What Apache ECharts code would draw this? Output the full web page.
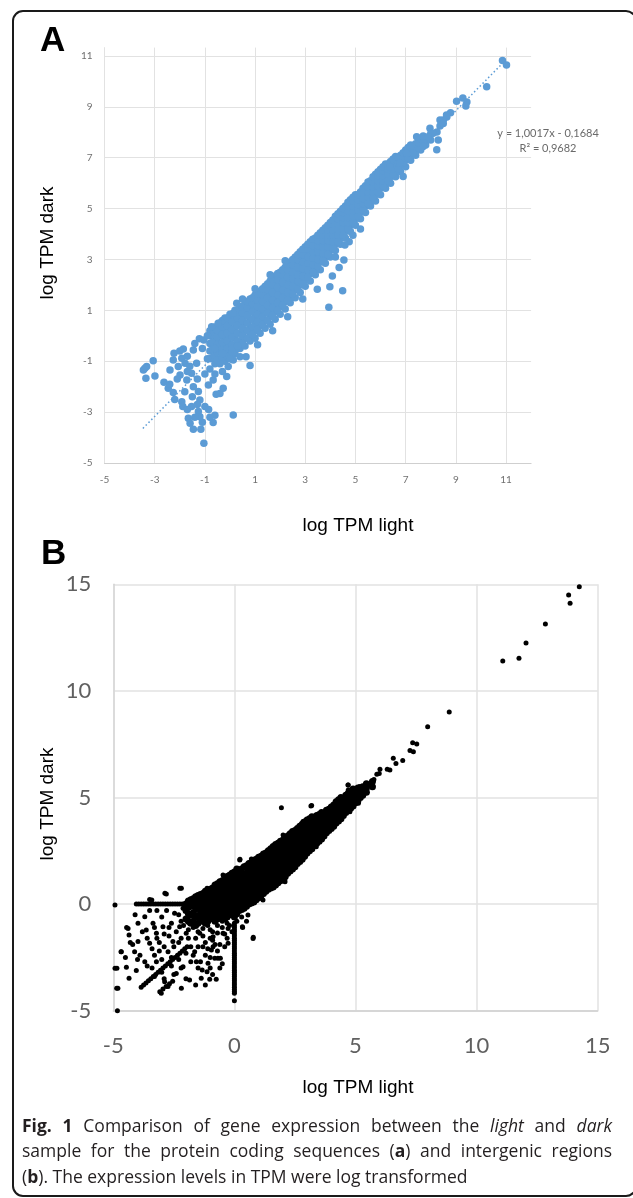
<!DOCTYPE html>
<html>
<head>
<meta charset="utf-8">
<script src="https://cdn.jsdelivr.net/npm/echarts@6/dist/echarts.min.js"></script>
<style>html,body{margin:0;padding:0;background:#fff}#c{width:633px;height:1198px}</style>
</head>
<body>
<div id="c"></div>
<script>
// ---------- Panel A: protein coding sequences (log TPM light vs log TPM dark) ----------
const aTicksX = [-5, -3, -1, 1, 3, 5, 7, 9, 11];
const aTicksY = [-5, -3, -1, 1, 3, 5, 7, 9, 11];
// dense diagonal band, read column by column: [log TPM light, [log TPM dark ...]]
const aBandCols = [
  [-0.8, [-0.9, -0.6, -0.3, 0.0, 0.2]],
  [-0.6, [-1.1, -0.8, -0.5, -0.2, 0.1, 0.35]],
  [-0.4, [-0.9, -0.6, -0.3, 0.0, 0.25, 0.5]],
  [-0.2, [-1.0, -0.7, -0.4, -0.1, 0.2, 0.45, 0.7]],
  [0.0, [-0.9, -0.6, -0.3, 0.0, 0.3, 0.6, 0.85]],
  [0.2, [-0.7, -0.4, -0.1, 0.2, 0.5, 0.75, 1.0]],
  [0.4, [-0.5, -0.2, 0.1, 0.4, 0.65, 0.9, 1.15]],
  [0.6, [-0.4, -0.1, 0.2, 0.5, 0.8, 1.05, 1.3]],
  [0.8, [-0.2, 0.1, 0.35, 0.65, 0.95, 1.2, 1.45]],
  [1.0, [-0.1, 0.2, 0.5, 0.8, 1.05, 1.3, 1.6]],
  [1.2, [0.1, 0.4, 0.7, 0.95, 1.2, 1.5, 1.75]],
  [1.4, [0.3, 0.6, 0.9, 1.15, 1.4, 1.65, 1.95]],
  [1.6, [0.45, 0.75, 1.05, 1.3, 1.6, 1.85, 2.15]],
  [1.8, [0.65, 0.95, 1.25, 1.5, 1.8, 2.05, 2.35]],
  [2.0, [0.85, 1.15, 1.45, 1.7, 2.0, 2.25, 2.5]],
  [2.2, [1.05, 1.35, 1.6, 1.9, 2.15, 2.45, 2.7]],
  [2.4, [1.3, 1.55, 1.85, 2.1, 2.35, 2.65, 2.9]],
  [2.6, [1.5, 1.8, 2.05, 2.3, 2.55, 2.85, 3.1]],
  [2.8, [1.7, 2.0, 2.25, 2.5, 2.8, 3.05, 3.3]],
  [3.0, [1.95, 2.2, 2.45, 2.75, 3.0, 3.25, 3.5]],
  [3.2, [2.15, 2.45, 2.7, 2.95, 3.2, 3.45, 3.7]],
  [3.4, [2.4, 2.65, 2.9, 3.15, 3.4, 3.65, 3.85]],
  [3.6, [2.6, 2.9, 3.15, 3.4, 3.6, 3.85, 4.05]],
  [3.8, [2.85, 3.1, 3.35, 3.6, 3.85, 4.05, 4.25]],
  [4.0, [3.1, 3.35, 3.6, 3.85, 4.05, 4.25, 4.45]],
  [4.2, [3.35, 3.6, 3.85, 4.05, 4.3, 4.5, 4.7]],
  [4.4, [3.6, 3.85, 4.1, 4.3, 4.5, 4.7, 4.9]],
  [4.6, [3.85, 4.1, 4.3, 4.55, 4.75, 4.95, 5.1]],
  [4.8, [4.1, 4.35, 4.55, 4.8, 5.0, 5.2, 5.35]],
  [5.0, [4.35, 4.6, 4.8, 5.0, 5.2, 5.4, 5.55]],
  [5.2, [4.6, 4.85, 5.05, 5.25, 5.45, 5.65]],
  [5.4, [4.85, 5.1, 5.3, 5.5, 5.7, 5.9]],
  [5.6, [5.1, 5.3, 5.55, 5.75, 5.95, 6.1]],
  [5.8, [5.3, 5.55, 5.75, 5.95, 6.15, 6.35]],
  [6.0, [5.55, 5.8, 6.0, 6.2, 6.4, 6.55]],
  [6.2, [5.8, 6.0, 6.2, 6.4, 6.6, 6.75]],
  [6.4, [6.0, 6.25, 6.45, 6.65, 6.85]],
  [6.6, [6.25, 6.45, 6.65, 6.85, 7.05]],
  [6.8, [6.45, 6.7, 6.9, 7.1]],
  [7.0, [6.65, 6.9, 7.1, 7.3]],
  [7.2, [6.9, 7.1, 7.3, 7.5]],
  [7.4, [7.1, 7.3, 7.55]],
  [7.6, [7.3, 7.5, 7.7]],
  [7.8, [7.5, 7.75]],
  [8.0, [7.7, 7.95]]
];
// in-between columns of the same band
const aBandCols2 = [
  [-0.7, [-0.85, -0.55, -0.25, 0.05]],
  [-0.5, [-0.95, -0.65, -0.35, -0.05, 0.2]],
  [-0.3, [-0.85, -0.55, -0.25, 0.05, 0.35, 0.6]],
  [-0.1, [-0.8, -0.5, -0.2, 0.1, 0.4, 0.7]],
  [0.1, [-0.65, -0.35, -0.05, 0.25, 0.55, 0.85]],
  [0.3, [-0.5, -0.2, 0.1, 0.4, 0.7, 0.95]],
  [0.5, [-0.3, 0.0, 0.3, 0.6, 0.9, 1.15]],
  [0.7, [-0.1, 0.2, 0.5, 0.8, 1.1, 1.35]],
  [0.9, [0.05, 0.35, 0.65, 0.95, 1.25, 1.5]],
  [1.1, [0.25, 0.55, 0.85, 1.15, 1.4, 1.65]],
  [1.3, [0.45, 0.75, 1.05, 1.35, 1.6, 1.85]],
  [1.5, [0.6, 0.9, 1.2, 1.5, 1.8, 2.05]],
  [1.7, [0.8, 1.1, 1.4, 1.7, 2.0, 2.25]],
  [1.9, [1.0, 1.3, 1.6, 1.9, 2.2, 2.45]],
  [2.1, [1.2, 1.5, 1.8, 2.1, 2.4, 2.6]],
  [2.3, [1.4, 1.7, 2.0, 2.3, 2.6, 2.8]],
  [2.5, [1.65, 1.95, 2.25, 2.5, 2.8, 3.0]],
  [2.7, [1.85, 2.15, 2.4, 2.7, 3.0, 3.2]],
  [2.9, [2.05, 2.35, 2.65, 2.9, 3.2, 3.4]],
  [3.1, [2.3, 2.6, 2.85, 3.1, 3.4, 3.6]],
  [3.3, [2.5, 2.8, 3.05, 3.3, 3.55, 3.8]],
  [3.5, [2.75, 3.0, 3.3, 3.55, 3.75, 3.95]],
  [3.7, [2.95, 3.25, 3.5, 3.75, 3.95, 4.15]],
  [3.9, [3.2, 3.5, 3.75, 3.95, 4.15, 4.35]],
  [4.1, [3.45, 3.7, 3.95, 4.15, 4.4, 4.55]],
  [4.3, [3.7, 3.95, 4.2, 4.4, 4.6, 4.8]],
  [4.5, [3.95, 4.2, 4.45, 4.65, 4.85, 5.0]],
  [4.7, [4.2, 4.45, 4.65, 4.9, 5.1, 5.25]],
  [4.9, [4.45, 4.7, 4.9, 5.1, 5.3, 5.45]],
  [5.1, [4.7, 4.95, 5.15, 5.35, 5.55]],
  [5.3, [4.95, 5.2, 5.4, 5.6, 5.8]],
  [5.5, [5.2, 5.45, 5.65, 5.85, 6.05]],
  [5.7, [5.45, 5.65, 5.85, 6.05, 6.25]],
  [5.9, [5.65, 5.9, 6.1, 6.3, 6.45]],
  [6.1, [5.9, 6.1, 6.3, 6.5, 6.65]],
  [6.3, [6.1, 6.35, 6.55, 6.75]],
  [6.5, [6.35, 6.55, 6.75, 6.95]],
  [6.7, [6.55, 6.8, 7.0]],
  [6.9, [6.8, 7.0, 7.2]],
  [7.1, [7.0, 7.2, 7.4]],
  [7.3, [7.2, 7.45]],
  [7.5, [7.4, 7.6]],
  [7.7, [7.6, 7.85]]
];
// individual / sparse points of panel A
const aPoints = [
  [10.86, 10.82], [11.02, 10.65], [10.23, 9.79], [9.03, 9.22], [9.28, 9.35], [9.44, 9.19], [9.4, 9.03],
  [8.79, 8.77], [8.64, 8.6], [8.5, 8.48], [8.37, 8.25], [8.25, 8.01], [8.63, 8.68], [8.37, 8.48], [8.5, 8.35],
  [7.97, 8.16], [8.1, 7.96], [8.3, 7.7], [8.24, 7.31], [7.9, 7.83], [7.44, 7.83], [7.7, 7.44], [7.04, 7.18],
  [6.77, 6.78], [6.9, 6.26], [6.37, 6.65],
  [3.94, 1.12], [4.49, 1.77], [3.48, 1.83], [3.98, 1.93], [4.08, 2.35], [4.35, 2.69], [4.54, 2.98],
  [4.75, 3.7], [4.58, 3.57], [4.2, 3.1], [4.9, 3.95], [5.2, 4.2],
  [-3.45, -1.34], [-3.32, -1.21], [-3.06, -0.98], [-2.99, -1.58], [-3.35, -1.67], [-2.63, -1.83], [-3.39, -1.28],
  [-2.23, -0.69], [-1.86, -0.52], [-1.46, -0.56], [-1.22, -0.12], [-1.04, -0.16], [-0.73, 0.36], [-0.47, 0.49],
  [-2.39, -1.34], [-2.46, -2.06], [-2.26, -2.23], [-1.92, -2.59], [-1.88, -2.78], [-1.66, -3.24], [-1.59, -3.44],
  [-1.46, -3.67], [-1.16, -3.67], [-1.04, -4.22], [-1.2, -3.18], [-1.0, -2.78], [-0.67, -3.41], [-0.6, -3.12],
  [0.13, -3.11], [-0.4, -2.27], [-0.27, -2.06], [-1.26, -2.19], [-1.46, -2.0], [-1.2, -2.52], [-1.53, -2.78],
  [-1.26, -2.98], [0.8, -1.17], [0.64, -0.82], [0.4, -0.82], [-0.13, -1.6], [-0.86, -1.93], [-0.67, -1.74],
  [-0.07, -1.21], [0.13, -0.95], [-2.26, -0.95], [-2.06, -1.21], [-1.99, -1.54], [-1.72, -1.74], [-1.53, -1.47],
  [-1.33, -1.08], [-1.79, -1.08], [-1.92, -0.88], [0.27, 1.28], [0.13, 0.89],
  [-2.0, -0.6], [-1.7, -0.8], [-1.6, -1.2], [-1.4, -0.3], [-1.1, -0.5], [-0.9, -0.9], [-0.8, -1.3], [-1.0, -1.5],
  [-1.3, -1.7], [-1.7, -1.4], [-2.1, -1.7], [-2.4, -1.9], [-2.2, -2.5], [-1.8, -2.2], [-1.5, -2.4], [-1.3, -2.7],
  [-1.1, -3.4], [-1.4, -3.2], [-1.7, -2.9], [-0.85, -2.9], [-0.8, -3.2], [-0.55, -2.3], [-0.6, -1.5], [-0.4, -1.1],
  [-0.3, -0.7], [-0.6, -0.5], [-0.9, 0.0], [-0.3, -1.4], [0.1, -0.5], [0.3, -0.4], [0.0, -0.9],
  [1.1, -0.35], [1.7, 0.2], [2.3, 0.75], [2.9, 1.45], [1.0, 1.85], [1.6, 2.4], [2.2, 2.95], [0.5, 1.45]
];
const aTrendX = [-3.47, 10.95];
const aTrendY = [-3.64, 10.8];
const aEquation = ['y = 1,0017x - 0,1684', 'R² = 0,9682'];

// ---------- Panel B: intergenic regions ----------
const bTicks = [-5, 0, 5, 10, 15];
const bBandCols = [
  [-2.0, [-0.7, -0.3, 0.0]],
  [-1.8, [-0.9, -0.5, -0.1, 0.2]],
  [-1.6, [-1.0, -0.6, -0.2, 0.1, 0.35]],
  [-1.4, [-0.8, -0.45, -0.1, 0.2, 0.45]],
  [-1.2, [-0.9, -0.55, -0.25, 0.05, 0.35, 0.6]],
  [-1.0, [-0.7, -0.4, -0.1, 0.2, 0.45, 0.7]],
  [-0.8, [-0.8, -0.5, -0.2, 0.1, 0.35, 0.6, 0.9]],
  [-0.6, [-0.6, -0.3, 0.0, 0.25, 0.5, 0.8, 1.05]],
  [-0.4, [-0.7, -0.4, -0.1, 0.2, 0.45, 0.7, 0.95, 1.2]],
  [-0.2, [-0.5, -0.2, 0.1, 0.35, 0.6, 0.85, 1.1, 1.35]],
  [0.0, [-0.6, -0.3, 0.0, 0.25, 0.5, 0.75, 1.0, 1.25, 1.5]],
  [0.2, [-0.3, 0.0, 0.3, 0.55, 0.8, 1.05, 1.3, 1.6]],
  [0.4, [-0.2, 0.1, 0.4, 0.65, 0.9, 1.15, 1.4, 1.75]],
  [0.6, [0.0, 0.3, 0.55, 0.8, 1.05, 1.3, 1.6, 1.9]],
  [0.8, [0.1, 0.4, 0.7, 0.95, 1.2, 1.45, 1.75, 2.0]],
  [1.0, [0.3, 0.6, 0.85, 1.1, 1.35, 1.6, 1.9, 2.2]],
  [1.2, [0.5, 0.8, 1.05, 1.3, 1.55, 1.8, 2.05, 2.35]],
  [1.4, [0.7, 1.0, 1.25, 1.5, 1.75, 2.0, 2.25, 2.5]],
  [1.6, [0.8, 1.1, 1.4, 1.65, 1.9, 2.15, 2.4, 2.7]],
  [1.8, [1.0, 1.3, 1.55, 1.8, 2.05, 2.3, 2.55, 2.85]],
  [2.0, [1.2, 1.5, 1.75, 2.0, 2.25, 2.5, 2.75, 3.0]],
  [2.2, [1.45, 1.7, 1.95, 2.2, 2.45, 2.7, 2.95, 3.2]],
  [2.4, [1.65, 1.9, 2.15, 2.4, 2.65, 2.9, 3.15, 3.4]],
  [2.6, [1.9, 2.15, 2.4, 2.6, 2.85, 3.1, 3.35, 3.55]],
  [2.8, [2.1, 2.35, 2.6, 2.8, 3.05, 3.3, 3.5, 3.75]],
  [3.0, [2.4, 2.65, 2.85, 3.05, 3.3, 3.5, 3.7, 3.95]],
  [3.2, [2.6, 2.85, 3.05, 3.25, 3.5, 3.7, 3.9, 4.1]],
  [3.4, [2.85, 3.1, 3.3, 3.5, 3.7, 3.9, 4.15]],
  [3.6, [3.05, 3.3, 3.5, 3.7, 3.9, 4.1, 4.3]],
  [3.8, [3.35, 3.55, 3.75, 3.95, 4.15, 4.4]],
  [4.0, [3.55, 3.75, 3.95, 4.15, 4.35, 4.55]],
  [4.2, [3.8, 4.0, 4.2, 4.4, 4.6, 4.8]],
  [4.4, [4.0, 4.2, 4.4, 4.6, 4.8, 5.0]],
  [4.6, [4.3, 4.5, 4.7, 4.9, 5.1]],
  [4.8, [4.5, 4.7, 4.9, 5.1, 5.3]],
  [5.0, [4.75, 4.95, 5.15, 5.35]],
  [5.2, [5.0, 5.2, 5.4]],
  [5.45, [5.25, 5.45, 5.65]],
  [5.7, [5.5, 5.75]]
];
const bBandCols2 = [
  [-1.9, [-0.8, -0.45, -0.15, 0.15]],
  [-1.7, [-0.8, -0.4, -0.05, 0.25]],
  [-1.5, [-0.9, -0.55, -0.2, 0.1, 0.4]],
  [-1.3, [-0.7, -0.4, -0.1, 0.2, 0.5]],
  [-1.1, [-0.8, -0.5, -0.2, 0.1, 0.35, 0.6]],
  [-0.9, [-0.65, -0.35, -0.05, 0.25, 0.5, 0.75]],
  [-0.7, [-0.7, -0.4, -0.1, 0.2, 0.45, 0.7, 0.95]],
  [-0.5, [-0.55, -0.25, 0.05, 0.35, 0.6, 0.85, 1.1]],
  [-0.3, [-0.6, -0.3, 0.0, 0.3, 0.55, 0.8, 1.05, 1.3]],
  [-0.1, [-0.45, -0.15, 0.2, 0.45, 0.7, 0.95, 1.2, 1.45]],
  [0.1, [-0.45, -0.15, 0.15, 0.4, 0.65, 0.9, 1.15, 1.4, 1.65]],
  [0.3, [-0.25, 0.05, 0.35, 0.6, 0.85, 1.1, 1.35, 1.65]],
  [0.5, [-0.1, 0.2, 0.45, 0.7, 0.95, 1.2, 1.45, 1.8]],
  [0.7, [0.05, 0.35, 0.6, 0.85, 1.1, 1.35, 1.65, 1.95]],
  [0.9, [0.2, 0.5, 0.8, 1.05, 1.3, 1.55, 1.85, 2.1]],
  [1.1, [0.4, 0.7, 0.95, 1.2, 1.45, 1.7, 2.0, 2.25]],
  [1.3, [0.6, 0.9, 1.15, 1.4, 1.65, 1.9, 2.15, 2.4]],
  [1.5, [0.75, 1.05, 1.3, 1.55, 1.8, 2.05, 2.3, 2.6]],
  [1.7, [0.9, 1.2, 1.5, 1.75, 2.0, 2.25, 2.5, 2.8]],
  [1.9, [1.1, 1.4, 1.65, 1.9, 2.15, 2.4, 2.65, 2.95]],
  [2.1, [1.3, 1.6, 1.85, 2.1, 2.35, 2.6, 2.85, 3.1]],
  [2.3, [1.55, 1.8, 2.05, 2.3, 2.55, 2.8, 3.05, 3.3]],
  [2.5, [1.75, 2.0, 2.25, 2.5, 2.75, 3.0, 3.25, 3.45]],
  [2.7, [2.0, 2.25, 2.5, 2.7, 2.95, 3.2, 3.45, 3.65]],
  [2.9, [2.25, 2.5, 2.75, 2.95, 3.15, 3.4, 3.6, 3.85]],
  [3.1, [2.5, 2.75, 2.95, 3.15, 3.4, 3.6, 3.8, 4.0]],
  [3.3, [2.75, 3.0, 3.2, 3.4, 3.6, 3.8, 4.0]],
  [3.5, [2.95, 3.2, 3.4, 3.6, 3.8, 4.0, 4.2]],
  [3.7, [3.2, 3.45, 3.65, 3.85, 4.05, 4.25]],
  [3.9, [3.45, 3.65, 3.85, 4.05, 4.25, 4.45]],
  [4.1, [3.65, 3.85, 4.05, 4.25, 4.45, 4.65]],
  [4.3, [3.9, 4.1, 4.3, 4.5, 4.7, 4.9]],
  [4.5, [4.15, 4.35, 4.55, 4.75, 4.95]],
  [4.7, [4.4, 4.6, 4.8, 5.0, 5.2]],
  [4.9, [4.6, 4.8, 5.0, 5.2, 5.4]],
  [5.1, [4.85, 5.05, 5.25, 5.45]],
  [5.3, [5.1, 5.3, 5.5]]
];
const bPoints = [
  [14.24, 14.89], [13.8, 14.5], [13.86, 14.11], [12.84, 13.14], [12.04, 12.25], [11.75, 11.53], [11.08, 11.4],
  [8.87, 9.01], [7.98, 8.32], [7.53, 7.51], [7.36, 7.57], [7.39, 7.15], [7.25, 7.2], [6.95, 6.73], [6.67, 6.6],
  [6.56, 6.84], [6.42, 6.29], [6.31, 6.32], [6.01, 6.32], [5.98, 6.13], [5.88, 6.09], [5.76, 5.85], [5.6, 5.59],
  [5.39, 5.51], [5.16, 5.51], [5.12, 5.12], [4.7, 5.59], [4.7, 5.35], [4.77, 4.33], [5.12, 4.73], [4.91, 4.96],
  [4.5, 4.73], [4.36, 4.96], [3.16, 4.6], [1.94, 4.52], [3.19, 4.62], [4.69, 5.59], [5.17, 5.51], [4.62, 4.33],
  [4.83, 5.04], [3.38, 2.69], [2.08, 1.13], [1.18, 0.19], [0.77, -1.61], [0.33, -1.06], [0.56, -0.51],
  [0.78, -1.56], [0.34, -1.1], [2.09, 1.05], [2.09, 1.28], [0.23, 2.1], [0.78, 2.1], [2.83, 3.87], [2.01, 3.24],
  [0.7, 2.12], [0.22, 2.07], [-0.47, 1.37], [-1.13, 0.74], [-2.19, 0.74], [-2.81, 0.47], [-2.25, 0.74],
  [-2.87, 0.51], [-3.41, 0.19], [-3.5, 0.22], [-4.93, -0.04],
  [-4.39, -1.14], [-4.35, -1.45], [-3.98, -0.9], [-3.7, -0.59], [-3.64, -1.21], [-3.36, -0.9], [-3.22, -1.37],
  [-2.95, -1.06], [-3.98, -1.76], [-3.5, -1.84], [-4.67, -2.23], [-4.12, -2.23], [-3.7, -2.7], [-4.46, -2.96],
  [-4.05, -3.12], [-4.35, -3.48], [-3.22, -2.7], [-2.74, -2.23], [-2.54, -1.76], [-2.47, -0.43], [-2.12, -0.2],
  [-2.26, -1.06], [-1.99, -1.37], [-1.85, -0.9], [-2.88, -3.64], [-3.02, -4.18], [-2.74, -3.87], [-2.19, -3.95],
  [-1.85, -3.56], [-2.4, -3.25], [-2.12, -2.94], [-1.37, -3.48], [-1.02, -3.53], [-0.75, -3.53], [-1.33, -3.09],
  [-1.57, -2.7], [-1.64, -2.23], [-1.09, -2.78], [-0.88, -2.0], [-0.95, -2.15], [-0.81, -2.54], [-0.68, -2.54],
  [-0.58, -2.54], [-1.13, -3.17], [-0.47, -1.37], [-0.26, -1.84], [-0.26, -1.14], [-0.88, -1.53], [-1.3, -2.0],
  [-1.43, -1.37], [-1.37, -0.75], [-1.64, -0.59], [-1.3, -0.28], [-4.45, -1.1], [-4.68, -2.23], [-4.93, -3.01],
  [-4.86, -3.95], [-4.83, -5.0], [-4.81, -3.95], [-4.85, -3.01],
  [-3.08, -4.11], [-2.95, -3.98], [-2.82, -3.86], [-2.68, -3.74], [-2.55, -3.62],
  [-3.3, -2.4], [-3.1, -2.2], [-2.9, -2.0], [-3.2, -1.6], [-2.7, -1.5], [-2.4, -1.3], [-2.6, -0.9], [-3.0, -0.6],
  [-3.5, -0.3], [-4.1, -0.5], [-4.2, -1.9], [-3.9, -2.4], [-3.4, -3.0], [-3.0, -3.2], [-2.6, -2.9], [-2.3, -2.6],
  [-2.0, -2.3], [-1.8, -2.0], [-2.2, -1.6], [-1.9, -1.2], [-1.6, -1.6], [-1.2, -1.8], [-1.0, -1.2], [-0.7, -1.0],
  [-0.5, -0.8], [-0.3, -0.9], [-1.5, -3.0], [-1.2, -2.4], [-0.4, -2.0], [-2.5, -3.3], [-2.0, -3.5], [-1.6, -3.8],
  [-1.0, -3.0], [-0.6, -3.0], [-0.3, -0.4], [0.5, -0.8], [0.3, -0.6],
  [-3.8, -1.3], [-3.6, -1.6], [-3.3, -1.1], [-3.1, -1.8], [-2.9, -1.4], [-2.7, -1.1], [-2.5, -2.0], [-2.3, -1.8],
  [-2.1, -1.0], [-1.9, -1.6], [-1.7, -2.4], [-1.5, -2.0], [-1.3, -1.5], [-1.1, -2.1], [-0.9, -1.7], [-0.7, -2.2],
  [-0.6, -1.9], [-1.0, -2.5], [-1.4, -2.7], [-1.8, -2.7], [-2.2, -3.0], [-2.6, -2.5], [-3.0, -2.6], [-3.4, -2.1],
  [-3.6, -2.9], [-4.0, -2.6], [-4.3, -1.8], [-4.5, -2.5], [-3.3, -3.4], [-2.9, -3.5], [-1.2, -3.8], [-0.9, -3.3],
  [-0.5, -2.8], [-0.3, -1.6], [-0.1, -1.3], [-2.8, -0.3], [-3.2, -0.3], [-2.3, -0.5], [-1.9, -0.4], [-1.6, -0.3],
  [-1.9, -0.75], [-1.7, -1.1], [-1.5, -1.3], [-1.3, -1.15], [-1.1, -1.0], [-0.9, -1.3], [-0.7, -1.35],
  [-0.5, -1.1], [-0.2, -1.0], [0.1, -0.8], [-1.6, -0.9], [-2.2, -0.8], [-1.0, -1.6], [-0.4, -1.4], [-0.8, -1.9]
];
// horizontal run of points at log TPM dark = 0
const bRowZeroX = [-4.05, -3.95, -3.85, -3.75, -3.65, -3.55, -3.45, -3.35, -3.25, -3.15, -3.05, -2.95, -2.85,
  -2.75, -2.65, -2.55, -2.45, -2.35, -2.25, -2.15, -2.05, -1.95, -1.85, -1.75];
// vertical run of points at log TPM light = 0
const bColZeroY = [-0.9, -1.0, -1.1, -1.2, -1.3, -1.4, -1.5, -1.6, -1.7, -1.8, -1.9, -2.0, -2.1, -2.2, -2.3,
  -2.4, -2.5, -2.6, -2.7, -2.8, -2.9, -3.0, -3.1, -3.2, -3.3, -3.4, -3.5, -3.6, -3.7, -3.8, -3.9, -4.0,
  -4.1, -4.18, -4.53];
// diagonal run of points (light = dark) in the low-expression corner
const bDiagX = [-3.85, -3.75, -3.65, -3.55, -3.45, -3.35, -3.25, -3.15, -3.05, -2.95, -2.85, -2.75, -2.65,
  -2.55, -2.45, -2.35, -2.25, -2.15, -2.05, -1.95];
const bDiagY = [-3.9, -3.8, -3.7, -3.6, -3.5, -3.4, -3.3, -3.2, -3.1, -3.0, -2.9, -2.8, -2.7,
  -2.6, -2.5, -2.4, -2.3, -2.2, -2.1, -2.0];

// caption words: [text, style] segments; lines 1-2 are justified, line 3 is the last line
const captionLines = [
  [[['Fig.', 'b']], [['1', 'b']], [['Comparison', 'n']], [['of', 'n']], [['gene', 'n']], [['expression', 'n']],
   [['between', 'n']], [['the', 'n']], [['light', 'i']], [['and', 'n']], [['dark', 'i']]],
  [[['sample', 'n']], [['for', 'n']], [['the', 'n']], [['protein', 'n']], [['coding', 'n']], [['sequences', 'n']],
   [['(', 'n'], ['a', 'b'], [')', 'n']], [['and', 'n']], [['intergenic', 'n']], [['regions', 'n']]],
  [[['(', 'n'], ['b', 'b'], [').', 'n']], [['The', 'n']], [['expression', 'n']], [['levels', 'n']], [['in', 'n']],
   [['TPM', 'n']], [['were', 'n']], [['log', 'n']], [['transformed', 'n']]]
];

// ---------- build data ----------
const flat = cols => cols.flatMap(([x, ys]) => ys.map(y => [x, y]));
const dataA = flat(aBandCols).concat(flat(aBandCols2)).concat(aPoints);
const trendA = aTrendX.map((x, i) => [x, aTrendY[i]]);
const dataBBand = flat(bBandCols).concat(flat(bBandCols2));
const dataB = bPoints
  .concat(bRowZeroX.map(x => [x, 0]))
  .concat(bColZeroY.map(y => [0, y]))
  .concat(bDiagX.map((x, i) => [x, bDiagY[i]]));

// ---------- caption layout (justified like the printed figure) ----------
const capSize = 17.5, capFamily = 'Open Sans', capColor = '#231f20';
const mctx = document.createElement('canvas').getContext('2d');
const fontOf = s => (s === 'i' ? 'italic ' : '') + (s === 'b' ? 'bold ' : '') + capSize + 'px "' + capFamily + '"';
const segW = ([t, s]) => { mctx.font = fontOf(s); return mctx.measureText(t).width; };
const captionGraphics = [];
captionLines.forEach((words, li) => {
  const x0 = 22, x1 = 612, y = 1127 + li * 25.5;
  const widths = words.map(w => w.reduce((a, seg) => a + segW(seg), 0));
  const total = widths.reduce((a, b) => a + b, 0);
  mctx.font = fontOf('n');
  const gap = li < 2 ? (x1 - x0 - total) / (words.length - 1) : mctx.measureText(' ').width;
  let x = x0;
  words.forEach((w) => {
    w.forEach(seg => {
      captionGraphics.push({type: 'text', x: x, y: y, style: {
        text: seg[0], fontFamily: capFamily, fontSize: capSize, fill: capColor,
        fontWeight: seg[1] === 'b' ? 'bold' : 'normal', fontStyle: seg[1] === 'i' ? 'italic' : 'normal',
        align: 'left', verticalAlign: 'middle'}});
      x += segW(seg);
    });
    x += gap;
  });
});

const chart = echarts.init(document.getElementById('c'), null, {width: 633, height: 1198});
const gridCol = '#e2e2e2';
const labA = {fontFamily: 'Lato', fontSize: 10, color: '#707070'};
const labB = {fontFamily: 'Lato', fontSize: 22, color: '#606060'};

chart.setOption({
  animation: false,
  backgroundColor: '#ffffff',
  grid: [
    {left: 104.5, top: 47.6, width: 426.6, height: 415.4},
    {left: 113.3, top: 584.3, width: 484.4, height: 426.4}
  ],
  xAxis: [
    {gridIndex: 0, type: 'value', min: aTicksX[0], max: 12, interval: 2,
     axisLine: {show: true, onZero: false, lineStyle: {color: '#cfcfcf', width: 1}}, axisTick: {show: false},
     axisLabel: Object.assign({margin: 12, showMaxLabel: false}, labA),
     splitLine: {show: true, showMinLine: false, showMaxLine: false, lineStyle: {color: gridCol, width: 1}}},
    {gridIndex: 1, type: 'value', min: bTicks[0], max: bTicks[bTicks.length - 1], interval: 5,
     axisLine: {show: true, onZero: false, lineStyle: {color: '#cfcfcf', width: 1.5}}, axisTick: {show: false},
     axisLabel: Object.assign({margin: 24}, labB),
     splitLine: {show: true, lineStyle: {color: gridCol, width: 1.5}}}
  ],
  yAxis: [
    {gridIndex: 0, type: 'value', min: aTicksY[0], max: 11.33, interval: 2,
     axisLine: {show: true, onZero: false, lineStyle: {color: gridCol, width: 1}}, axisTick: {show: false},
     axisLabel: Object.assign({margin: 12, showMaxLabel: false}, labA),
     splitLine: {show: true, showMinLine: false, showMaxLine: false, lineStyle: {color: gridCol, width: 1}}},
    {gridIndex: 1, type: 'value', min: bTicks[0], max: bTicks[bTicks.length - 1], interval: 5,
     axisLine: {show: true, onZero: false, lineStyle: {color: '#d6d6d6', width: 1.5}}, axisTick: {show: false},
     axisLabel: Object.assign({margin: 22}, labB),
     splitLine: {show: true, lineStyle: {color: gridCol, width: 1.5}}}
  ],
  series: [
    {type: 'line', xAxisIndex: 0, yAxisIndex: 0, data: trendA, symbol: 'none', z: 1,
     lineStyle: {color: '#5b9bd5', width: 1.5, type: [1.5, 2.5]}},
    {type: 'scatter', xAxisIndex: 0, yAxisIndex: 0, data: dataA, symbolSize: 7.5, z: 2,
     itemStyle: {color: '#5b9bd5', opacity: 1}},
    {type: 'scatter', xAxisIndex: 1, yAxisIndex: 1, data: dataBBand, symbolSize: 7, z: 2,
     itemStyle: {color: '#000000', opacity: 1}},
    {type: 'scatter', xAxisIndex: 1, yAxisIndex: 1, data: dataB, symbolSize: 5, z: 2,
     itemStyle: {color: '#000000', opacity: 1}}
  ],
  graphic: [
    {type: 'rect', shape: {x: 13, y: 11, width: 623, height: 1185, r: 10}, z: 0,
     style: {fill: 'none', stroke: '#1a1a1a', lineWidth: 2}},
    {type: 'text', x: 40, y: 41, style: {text: 'A', fontFamily: 'Liberation Sans', fontWeight: 'bold', fontSize: 35, fill: '#000', align: 'left', verticalAlign: 'middle'}},
    {type: 'text', x: 41, y: 554, style: {text: 'B', fontFamily: 'Liberation Sans', fontWeight: 'bold', fontSize: 35, fill: '#000', align: 'left', verticalAlign: 'middle'}},
    {type: 'text', x: 48, y: 243, rotation: Math.PI / 2, style: {text: 'log TPM dark', fontFamily: 'Liberation Sans', fontSize: 19, fill: '#000', align: 'center', verticalAlign: 'middle'}},
    {type: 'text', x: 358, y: 526, style: {text: 'log TPM light', fontFamily: 'Liberation Sans', fontSize: 19, fill: '#000', align: 'center', verticalAlign: 'middle'}},
    {type: 'text', x: 48, y: 804, rotation: Math.PI / 2, style: {text: 'log TPM dark', fontFamily: 'Liberation Sans', fontSize: 19, fill: '#000', align: 'center', verticalAlign: 'middle'}},
    {type: 'text', x: 358, y: 1088, style: {text: 'log TPM light', fontFamily: 'Liberation Sans', fontSize: 19, fill: '#000', align: 'center', verticalAlign: 'middle'}},
    {type: 'text', x: 548, y: 133, style: {text: aEquation[0], fontFamily: 'Lato', fontSize: 11, fill: '#6a6a6a', align: 'center', verticalAlign: 'middle'}},
    {type: 'text', x: 548, y: 148, style: {text: aEquation[1], fontFamily: 'Lato', fontSize: 11, fill: '#6a6a6a', align: 'center', verticalAlign: 'middle'}}
  ].concat(captionGraphics)
});
</script>
</body>
</html>
